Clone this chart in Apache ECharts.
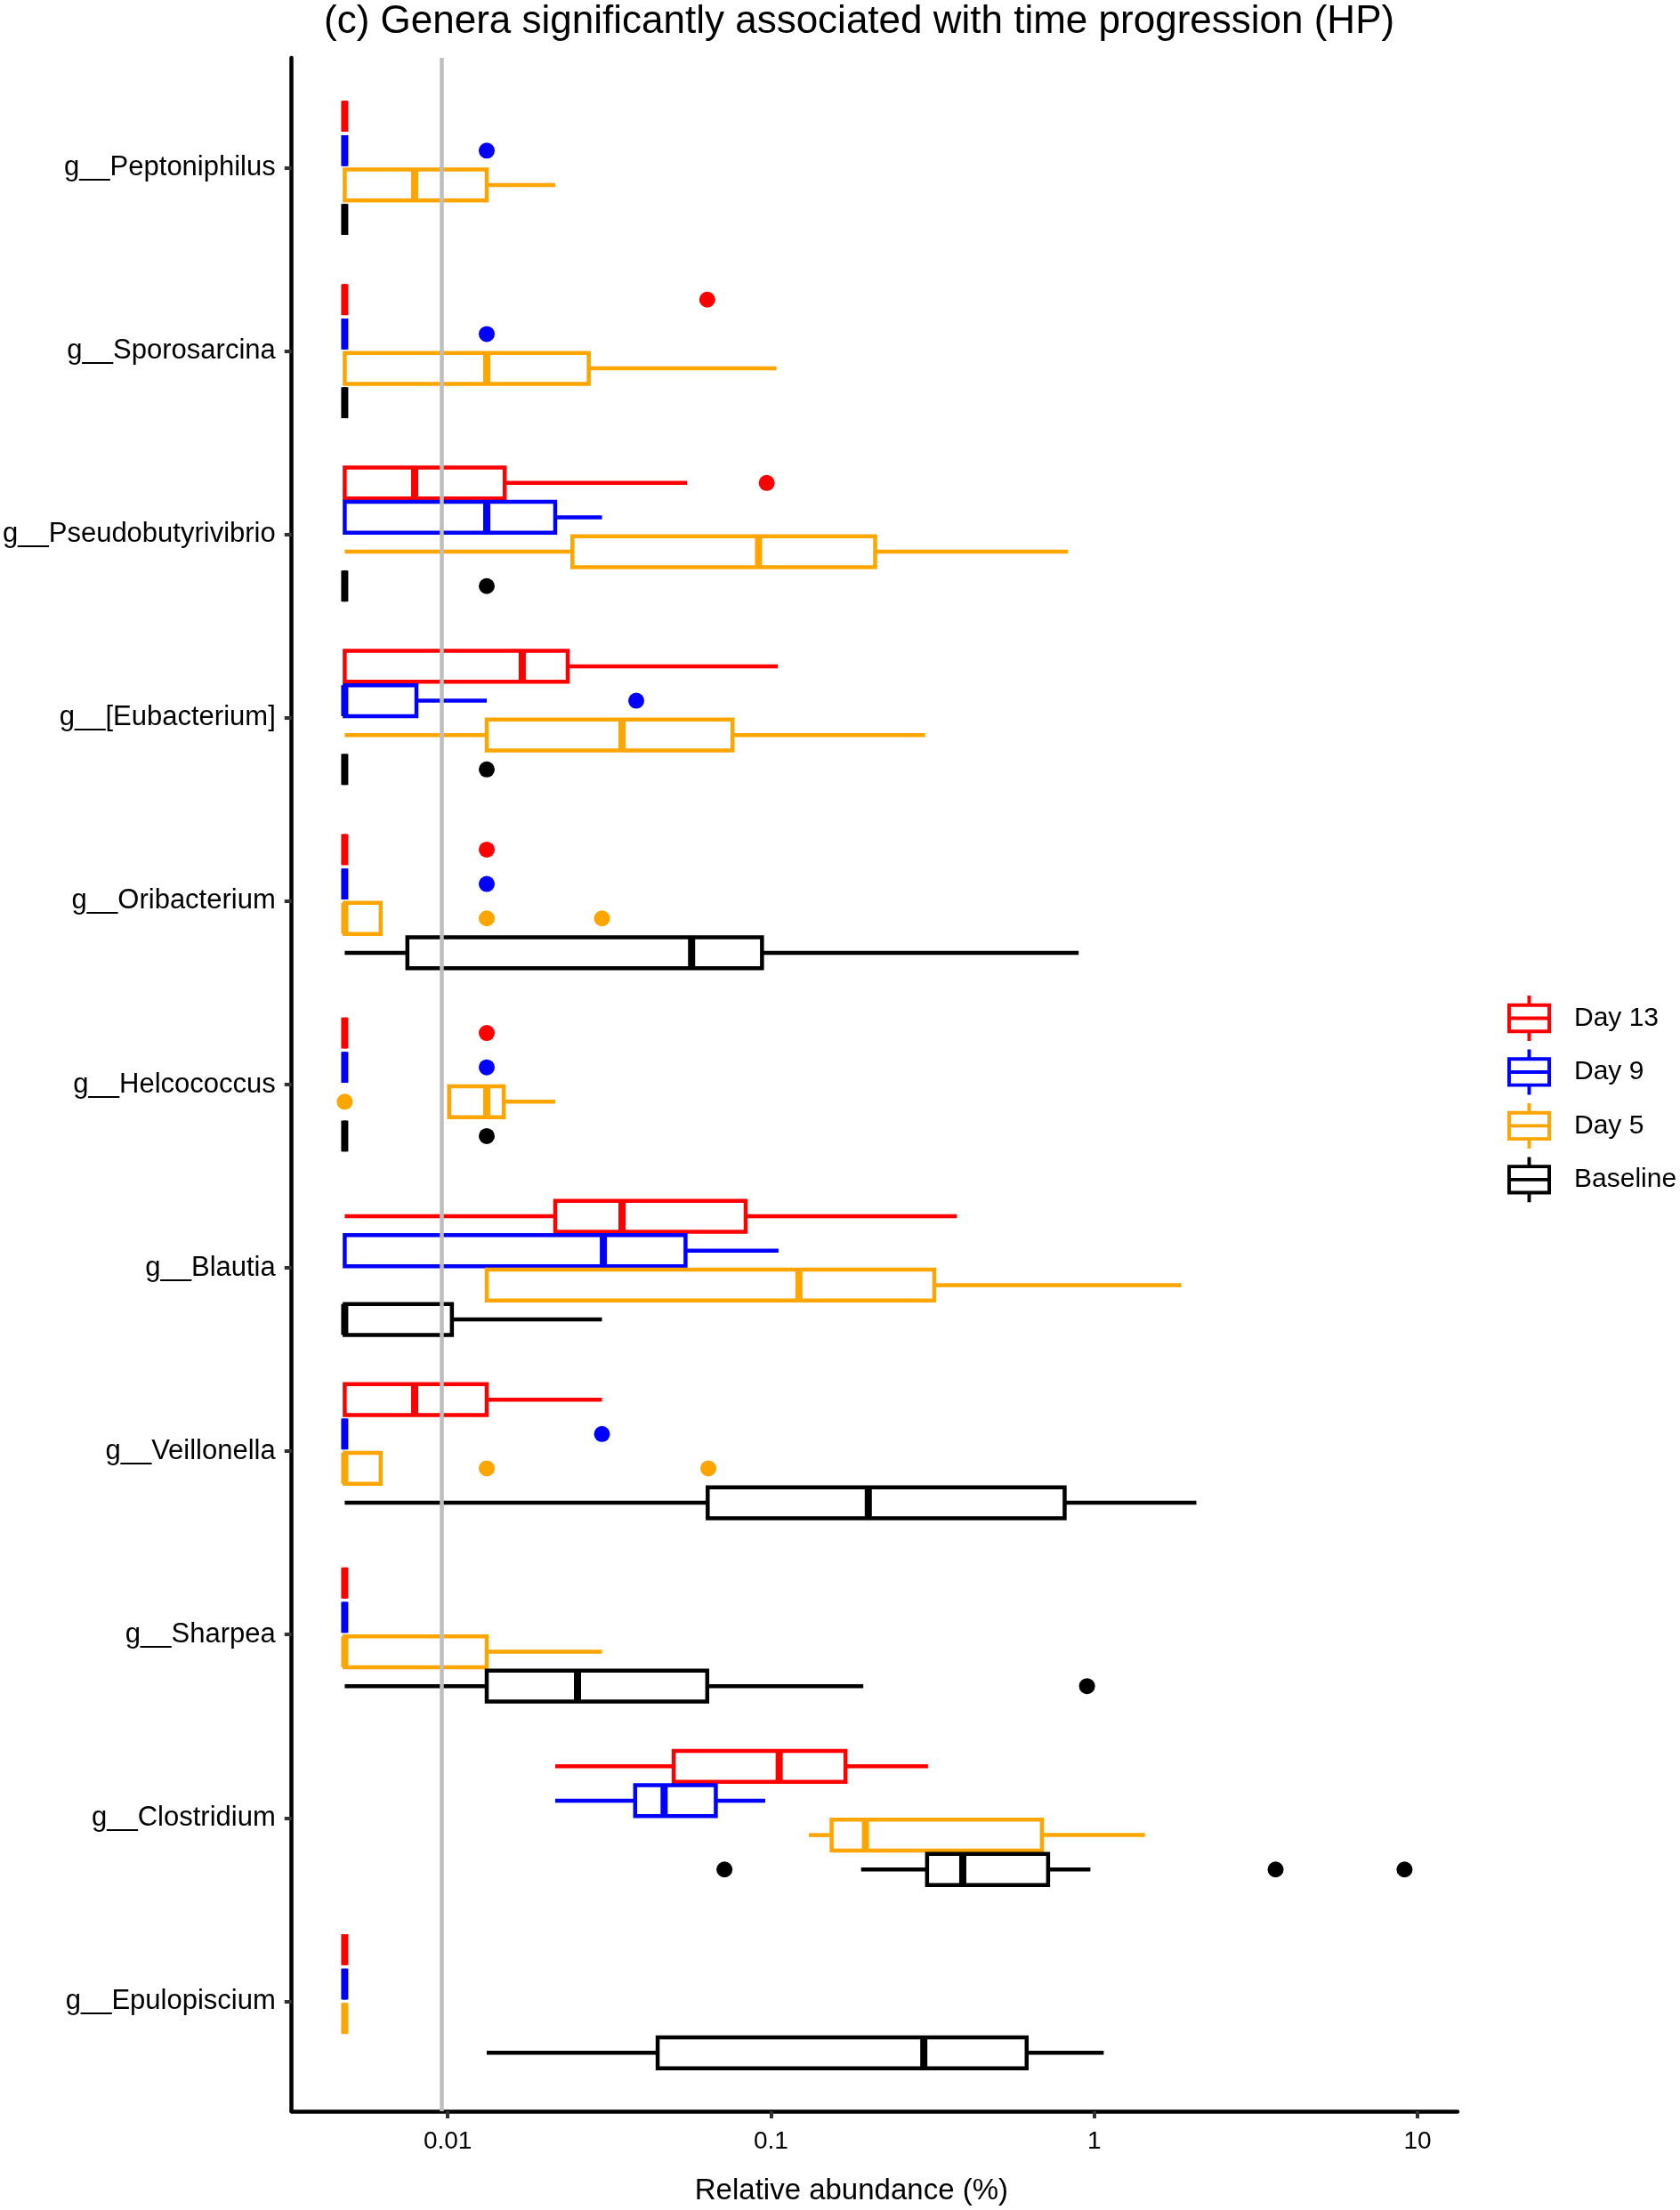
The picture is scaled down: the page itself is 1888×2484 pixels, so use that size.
<!DOCTYPE html>
<html>
<head>
<meta charset="utf-8">
<title>(c) Genera significantly associated with time progression (HP)</title>
<script src="https://cdn.jsdelivr.net/npm/echarts@6/dist/echarts.min.js"></script>
<style>
  html, body { margin: 0; padding: 0; background: #fff; }
  #chart { width: 1888px; height: 2484px; }
</style>
</head>
<body>
<div id="chart"></div>
<script>
// genera, top to bottom
var genera = ['g__Peptoniphilus', 'g__Sporosarcina', 'g__Pseudobutyrivibrio', 'g__[Eubacterium]',
  'g__Oribacterium', 'g__Helcococcus', 'g__Blautia', 'g__Veillonella', 'g__Sharpea',
  'g__Clostridium', 'g__Epulopiscium'];

var groupNames = ['Day 13', 'Day 9', 'Day 5', 'Baseline'];
var groupColors = ['#FF0000', '#0000FF', '#FFA500', '#000000'];

// box stats per genus: [lower whisker, q1, median, q3, upper whisker], relative abundance (%)
var day13Box = [
  [0.0048, 0.0048, 0.0048, 0.0048, 0.0048],
  [0.0048, 0.0048, 0.0048, 0.0048, 0.0048],
  [0.0048, 0.0048, 0.0079, 0.0150, 0.055],
  [0.0048, 0.0048, 0.0170, 0.0235, 0.105],
  [0.0048, 0.0048, 0.0048, 0.0048, 0.0048],
  [0.0048, 0.0048, 0.0048, 0.0048, 0.0048],
  [0.0048, 0.0215, 0.0346, 0.0835, 0.376],
  [0.0048, 0.0048, 0.0079, 0.0132, 0.030],
  [0.0048, 0.0048, 0.0048, 0.0048, 0.0048],
  [0.0215, 0.050, 0.106, 0.170, 0.306],
  [0.0048, 0.0048, 0.0048, 0.0048, 0.0048]
];
var day9Box = [
  [0.0048, 0.0048, 0.0048, 0.0048, 0.0048],
  [0.0048, 0.0048, 0.0048, 0.0048, 0.0048],
  [0.0048, 0.0048, 0.0132, 0.0215, 0.030],
  [0.0048, 0.0048, 0.0048, 0.0080, 0.0132],
  [0.0048, 0.0048, 0.0048, 0.0048, 0.0048],
  [0.0048, 0.0048, 0.0048, 0.0048, 0.0048],
  [0.0048, 0.0048, 0.0303, 0.0544, 0.1055],
  [0.0048, 0.0048, 0.0048, 0.0048, 0.0048],
  [0.0048, 0.0048, 0.0048, 0.0048, 0.0048],
  [0.0215, 0.038, 0.0467, 0.0675, 0.096],
  [0.0048, 0.0048, 0.0048, 0.0048, 0.0048]
];
var day5Box = [
  [0.0048, 0.0048, 0.0079, 0.0132, 0.0215],
  [0.0048, 0.0048, 0.0132, 0.0273, 0.104],
  [0.0048, 0.0243, 0.0915, 0.21, 0.83],
  [0.0048, 0.0132, 0.0346, 0.076, 0.30],
  [0.0048, 0.0048, 0.0048, 0.0062, 0.0062],
  [0.0101, 0.0101, 0.0132, 0.0149, 0.0215],
  [0.0132, 0.0132, 0.122, 0.32, 1.86],
  [0.0048, 0.0048, 0.0048, 0.0062, 0.0062],
  [0.0048, 0.0048, 0.0048, 0.0132, 0.030],
  [0.131, 0.154, 0.196, 0.689, 1.435],
  [0.0048, 0.0048, 0.0048, 0.0048, 0.0048]
];
var baselineBox = [
  [0.0048, 0.0048, 0.0048, 0.0048, 0.0048],
  [0.0048, 0.0048, 0.0048, 0.0048, 0.0048],
  [0.0048, 0.0048, 0.0048, 0.0048, 0.0048],
  [0.0048, 0.0048, 0.0048, 0.0048, 0.0048],
  [0.0048, 0.0075, 0.0568, 0.0938, 0.895],
  [0.0048, 0.0048, 0.0048, 0.0048, 0.0048],
  [0.0048, 0.0048, 0.0048, 0.0103, 0.030],
  [0.0048, 0.0637, 0.20, 0.81, 2.07],
  [0.0048, 0.0132, 0.0252, 0.0635, 0.193],
  [0.190, 0.304, 0.392, 0.72, 0.973],
  [0.0132, 0.0446, 0.297, 0.618, 1.07]
];

// outliers: [genus index, value (%)]
var day13Out = [[1, 0.0635], [2, 0.097], [4, 0.0132], [5, 0.0132]];
var day9Out = [[0, 0.0132], [1, 0.0132], [3, 0.0383], [4, 0.0132], [5, 0.0132], [7, 0.030]];
var day5Out = [[4, 0.0132], [4, 0.030], [5, 0.0048], [7, 0.0132], [7, 0.064]];
var baselineOut = [[2, 0.0132], [3, 0.0132], [5, 0.0132], [8, 0.95], [9, 0.0718], [9, 3.64], [9, 9.12]];

var tickValues = [0.01, 0.1, 1, 10];
var tickLabels = ['0.01', '0.1', '1', '10'];
var thresholdValue = 0.0096;

var boxes = [day13Box, day9Box, day5Box, baselineBox];
var outliers = [day13Out, day9Out, day5Out, baselineOut];

var font = 'Liberation Sans, Arial, Helvetica, sans-serif';
var dodge = 0.1875;
var boxHalf = 0.084375;

function renderBox(offset, color) {
  return function (params, api) {
    var y = api.value(5) + offset;
    var lw = api.coord([api.value(0), y]);
    var q1 = api.coord([api.value(1), y]);
    var md = api.coord([api.value(2), y]);
    var q3 = api.coord([api.value(3), y]);
    var uw = api.coord([api.value(4), y]);
    var h = api.size([0, boxHalf])[1];
    var cy = lw[1];
    var ls = { stroke: color, lineWidth: 4.5 };
    return {
      type: 'group',
      children: [
        { type: 'line', shape: { x1: lw[0], y1: cy, x2: q1[0], y2: cy }, style: ls },
        { type: 'line', shape: { x1: q3[0], y1: cy, x2: uw[0], y2: cy }, style: ls },
        { type: 'rect', shape: { x: q1[0], y: cy - h, width: q3[0] - q1[0], height: 2 * h },
          style: { fill: 'none', stroke: color, lineWidth: 4.5 } },
        { type: 'line', shape: { x1: md[0], y1: cy - h, x2: md[0], y2: cy + h },
          style: { stroke: color, lineWidth: 8 } }
      ]
    };
  };
}

var series = [{
  type: 'line',
  name: 'threshold',
  data: [],
  z: 1,
  markLine: {
    silent: true,
    symbol: 'none',
    label: { show: false },
    lineStyle: { color: '#BEBEBE', width: 4.5, type: 'solid' },
    data: [{ xAxis: Math.log10(thresholdValue) }]
  }
}];

groupNames.forEach(function (name, g) {
  var offset = (g - 1.5) * dodge;
  series.push({
    type: 'custom',
    name: name,
    z: 2,
    itemStyle: { color: groupColors[g] },
    renderItem: renderBox(offset, groupColors[g]),
    encode: { x: [0, 1, 2, 3, 4], y: 5 },
    data: boxes[g].map(function (b, i) {
      return b.map(function (v) { return Math.log10(v); }).concat([i]);
    })
  });
  series.push({
    type: 'scatter',
    name: name,
    z: 3,
    symbol: 'circle',
    symbolSize: 18,
    itemStyle: { color: groupColors[g], opacity: 1 },
    data: outliers[g].map(function (o) { return [Math.log10(o[1]), o[0] + offset]; })
  });
});

var chart = echarts.init(document.getElementById('chart'));
chart.setOption({
  animation: false,
  backgroundColor: '#fff',
  title: {
    text: '(c) Genera significantly associated with time progression (HP)',
    left: 364, top: 3, padding: 0,
    textStyle: { fontFamily: font, fontSize: 44, fontWeight: 'normal', color: '#000' }
  },
  legend: {
    orient: 'vertical',
    left: 1694, top: 1119, padding: 0,
    itemWidth: 49, itemHeight: 52, itemGap: 9.5,
    icon: 'path://M23 0H27V9H23Z M0 9H50V43H0Z M4 13V24H46V13Z M4 28V39H46V28Z M23 43H27V52H23Z',
    itemStyle: { borderWidth: 0 },
    data: groupNames,
    textStyle: { fontFamily: font, fontSize: 30, color: '#000', padding: [0, 0, 0, 21] }
  },
  grid: { left: 327, right: 250, top: 65, bottom: 104 },
  xAxis: {
    type: 'value',
    min: -2.483, max: 1.124,
    name: 'Relative abundance (%)',
    nameLocation: 'middle',
    nameGap: 73,
    nameTextStyle: { fontFamily: font, fontSize: 33, color: '#000', padding: [0, 52, 0, 0] },
    axisLine: { onZero: false, lineStyle: { color: '#000', width: 4.5 } },
    axisTick: { length: 8, lineStyle: { color: '#333', width: 4 },
      customValues: tickValues.map(function (v) { return Math.log10(v); }) },
    axisLabel: {
      margin: 20, fontFamily: font, fontSize: 28, color: '#000',
      customValues: tickValues.map(function (v) { return Math.log10(v); }),
      formatter: function (v) { return tickLabels[Math.round(v) + 2]; }
    },
    splitLine: { show: false }
  },
  yAxis: {
    type: 'value',
    min: -0.6, max: 10.6,
    inverse: true,
    axisLine: { onZero: false, lineStyle: { color: '#000', width: 4.5 } },
    axisTick: { length: 8, lineStyle: { color: '#333', width: 4 },
      customValues: genera.map(function (g, i) { return i; }) },
    axisLabel: {
      margin: 18, fontFamily: font, fontSize: 31, color: '#000',
      customValues: genera.map(function (g, i) { return i; }),
      formatter: function (v) { return genera[Math.round(v)]; }
    },
    splitLine: { show: false }
  },
  series: series
});
</script>
</body>
</html>
